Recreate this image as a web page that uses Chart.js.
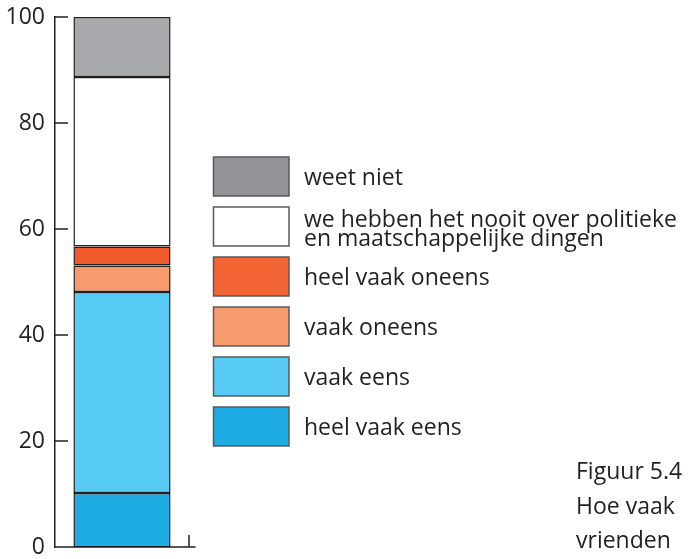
<!DOCTYPE html>
<html>
<head>
<meta charset="utf-8">
<script src="https://cdn.jsdelivr.net/npm/chart.js@4.4.1/dist/chart.umd.min.js"></script>
<style>
  html, body { margin: 0; padding: 0; background: #fff; width: 690px; height: 559px; overflow: hidden; }
  #wrap { position: relative; width: 690px; height: 559px; }
  #chart { position: absolute; left: 0; top: 0; }
  .caption {
    position: absolute; left: 576px; top: 453px;
    font-family: 'Open Sans', sans-serif; font-size: 23px; line-height: 34.5px;
    color: #231f20; white-space: nowrap;
  }
</style>
</head>
<body>
<div id="wrap">
  <canvas id="chart" width="690" height="559"></canvas>
  <div class="caption">Figuur 5.4<br>Hoe vaak<br>vrienden</div>
</div>
<script>
// One stacked column: share (%) per answer, from bottom to top
const categories = ['vrienden'];
const seriesLabels = [
  'heel vaak eens',
  'vaak eens',
  'vaak oneens',
  'heel vaak oneens',
  'we hebben het nooit over politieke\nen maatschappelijke dingen',
  'weet niet'
];
const heelVaakEens   = [10.2];
const vaakEens       = [37.9];
const vaakOneens     = [5.0];
const heelVaakOneens = [3.6];
const nooitOver      = [32.0];
const weetNiet       = [11.3];
const yTicks = [0, 20, 40, 60, 80, 100];

const ink = '#231f20';
const fills   = ['#1eaae2', '#57cbf5', '#f79a6e', '#f15a2b', '#ffffff', '#a7a9ac'];
const swatches = ['#1eaae2', '#57cbf5', '#f79a6e', '#f26433', '#ffffff', '#939598'];
const values = [heelVaakEens, vaakEens, vaakOneens, heelVaakOneens, nooitOver, weetNiet];

const datasets = values.map((v, i) => ({
  label: seriesLabels[i],
  data: v,
  backgroundColor: fills[i],
  swatchColor: swatches[i],
  borderColor: ink,
  borderWidth: 1.5,
  borderSkipped: false,
  barPercentage: 0.725,
  categoryPercentage: 1
}));

// Axis lines with inward tick marks
const axisMarks = {
  id: 'axisMarks',
  afterDatasetsDraw(chart) {
    const { ctx, chartArea: a, scales } = chart;
    const y = scales.y;
    ctx.save();
    ctx.strokeStyle = ink;
    ctx.lineWidth = 1.5;
    ctx.beginPath();
    yTicks.forEach(v => {
      const py = y.getPixelForValue(v);
      ctx.moveTo(a.left, py);
      ctx.lineTo(a.left + 13, py);
    });
    // baseline, running a little past the last category edge
    ctx.moveTo(a.left, a.bottom);
    ctx.lineTo(a.right + 6.5, a.bottom);
    // category edge tick
    ctx.moveTo(a.right, a.bottom);
    ctx.lineTo(a.right, a.bottom - 12);
    ctx.stroke();
    ctx.restore();
  }
};

// Legend: swatches stacked top-down in reverse series order
const swatchLegend = {
  id: 'swatchLegend',
  afterDraw(chart, args, o) {
    const ctx = chart.ctx;
    const list = chart.data.datasets.slice().reverse();
    ctx.save();
    ctx.font = o.fontSize + 'px "Open Sans"';
    ctx.textAlign = 'left';
    ctx.textBaseline = 'alphabetic';
    list.forEach((d, i) => {
      const top = o.top + i * o.step;
      ctx.fillStyle = d.swatchColor;
      ctx.fillRect(o.left, top, o.boxW, o.boxH);
      ctx.strokeStyle = o.boxBorder;
      ctx.lineWidth = 1.5;
      ctx.strokeRect(o.left, top, o.boxW, o.boxH);
      const lines = d.label.split('\n');
      const mid = top + o.boxH / 2;
      ctx.fillStyle = ink;
      if (lines.length === 1) {
        ctx.fillText(lines[0], o.textX, mid + 8);
      } else {
        lines.forEach((t, k) => ctx.fillText(t, o.textX, mid + k * o.lineGap));
      }
    });
    ctx.restore();
  }
};

new Chart(document.getElementById('chart'), {
  type: 'bar',
  data: { labels: categories, datasets },
  plugins: [axisMarks, swatchLegend],
  options: {
    responsive: false,
    animation: false,
    layout: { padding: { top: 17, bottom: 12, left: 0, right: 501 } },
    plugins: {
      legend: { display: false },
      tooltip: { enabled: false },
      swatchLegend: { left: 213.5, top: 157, step: 50, boxW: 75.5, boxH: 39, boxBorder: '#58595b', textX: 304, fontSize: 23, lineGap: 19 }
    },
    scales: {
      x: { stacked: true, display: false },
      y: {
        stacked: true,
        min: 0, max: 100,
        afterFit(s) { s.width = 55; s.paddingTop = 0; s.paddingBottom = 0; },
        afterBuildTicks(s) { s.ticks = yTicks.map(v => ({ value: v })); },
        grid: { display: false, drawTicks: false },
        border: { display: true, color: ink, width: 1.5 },
        ticks: { color: ink, padding: 10, font: { family: 'Open Sans', size: 23 } }
      }
    }
  }
});
</script>
</body>
</html>
